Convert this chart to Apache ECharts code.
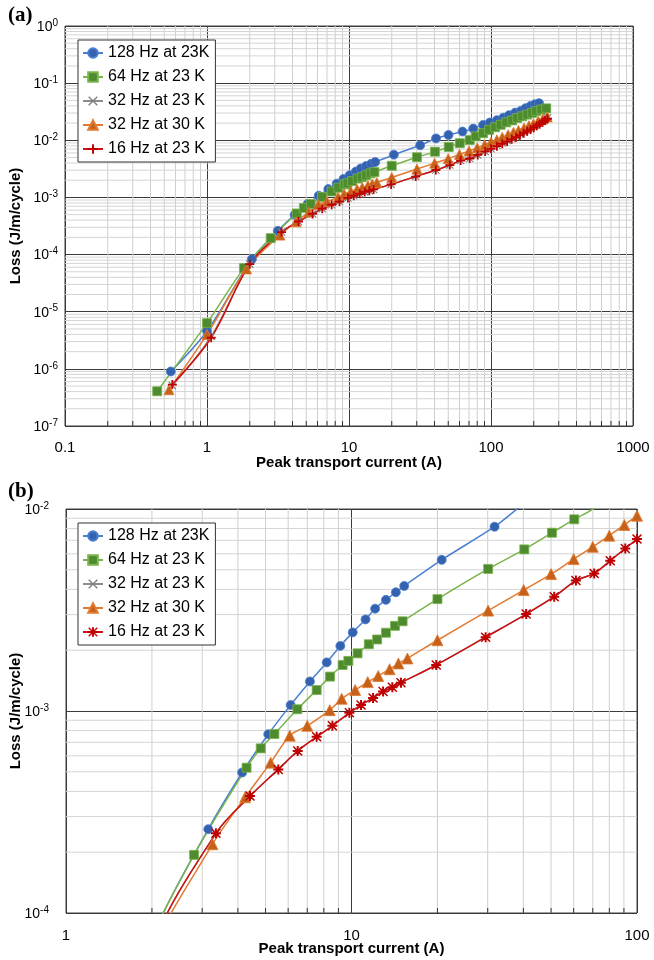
<!DOCTYPE html>
<html>
<head>
<meta charset="utf-8">
<script src="https://cdn.jsdelivr.net/npm/echarts@6/dist/echarts.min.js"></script>
<style>
  body { margin: 0; background: #fff; }
  #chartA { width: 654px; height: 475px; }
  #chartB { width: 654px; height: 485px; }
</style>
</head>
<body>
<div id="chartA"></div>
<div id="chartB"></div>
<script>
// ---- data (current in A, loss in J/m/cycle) ----
const seriesNames = ["128 Hz at 23K", "64 Hz at 23 K", "32 Hz at 23 K", "32 Hz at 30 K", "16 Hz at 23 K"];

const blueX = [0.556, 1.0, 2.07, 3.15, 4.14, 5.11, 6.12, 7.15, 8.19, 9.14, 10.1, 11.2, 12.1, 13.2, 14.3, 15.3, 20.7, 31.7,
  41.0, 50.2, 63, 75, 88, 98, 110, 122, 134, 148, 162, 175, 190, 204, 218];
const blueY = [9.0e-7, 4.6e-6, 8.3e-5, 2.6e-4, 4.96e-4, 7.67e-4, 1.07e-3, 1.40e-3, 1.74e-3, 2.10e-3, 2.45e-3, 2.84e-3, 3.21e-3,
  3.55e-3, 3.87e-3, 4.16e-3, 5.60e-3, 8.17e-3, 1.08e-2, 1.24e-2, 1.42e-2, 1.60e-2, 1.86e-2, 2.04e-2, 2.25e-2, 2.49e-2,
  2.75e-2, 3.05e-2, 3.27e-2, 3.64e-2, 4.0e-2, 4.28e-2, 4.46e-2];

const greenX = [0.446, 1.0, 1.82, 2.81, 4.29, 4.81, 5.37, 6.46, 7.55, 8.41, 9.31, 9.75, 10.5, 11.5, 12.3, 13.2, 14.2, 15.1,
  20.0, 30.1, 40.3, 50.4, 60.3, 70.8, 78, 88, 97, 107, 117, 128, 141, 153, 166, 180, 195, 208, 226, 245];
const greenY = [4.05e-7, 6.3e-6, 5.8e-5, 1.94e-4, 5.24e-4, 6.53e-4, 7.69e-4, 1.02e-3, 1.27e-3, 1.48e-3, 1.69e-3, 1.77e-3,
  1.93e-3, 2.14e-3, 2.26e-3, 2.44e-3, 2.64e-3, 2.78e-3, 3.58e-3, 5.05e-3, 6.31e-3, 7.63e-3, 8.89e-3, 1.01e-2, 1.17e-2,
  1.33e-2, 1.52e-2, 1.69e-2, 1.87e-2, 2.06e-2, 2.23e-2, 2.45e-2, 2.63e-2, 2.82e-2, 3.01e-2, 3.23e-2, 3.46e-2, 3.62e-2];

const grayX = [0.57, 1.07, 2.0, 3.35, 4.41, 5.54, 6.48, 7.55, 8.57, 9.83, 10.8, 11.9, 12.9, 13.9, 14.9, 19.8, 29.5, 40.9,
  51.3, 61.1, 70.8, 80.6, 91, 100, 110, 120, 130, 140, 150, 160, 170, 180, 190, 200, 210, 220, 230, 240, 250];
const grayY = [5.1e-7, 3.7e-6, 6.8e-5, 2.48e-4, 3.79e-4, 5.14e-4, 6.34e-4, 7.45e-4, 8.45e-4, 9.8e-4, 1.07e-3, 1.16e-3,
  1.25e-3, 1.31e-3, 1.38e-3, 1.69e-3, 2.32e-3, 3.02e-3, 3.68e-3, 4.42e-3, 4.8e-3, 5.55e-3, 6.38e-3, 7.1e-3, 8.2e-3,
  9.0e-3, 9.9e-3, 1.08e-2, 1.17e-2, 1.28e-2, 1.38e-2, 1.50e-2, 1.61e-2, 1.73e-2, 1.86e-2, 2.0e-2, 2.14e-2, 2.30e-2, 2.47e-2];

const orangeX = [0.54, 1.0, 1.9, 3.26, 4.24, 5.21, 6.08, 7.0, 8.39, 9.24, 10.3, 11.4, 12.4, 13.6, 14.6, 15.7, 20.0, 30.1,
  40.1, 50.0, 60.0, 70.0, 80.0, 90.3, 100, 110, 120, 132, 144, 156, 171, 185, 199, 215, 232, 249];
const orangeY = [4.3e-7, 4.0e-6, 5.6e-5, 2.19e-4, 3.74e-4, 5.55e-4, 7.55e-4, 8.45e-4, 1.01e-3, 1.15e-3, 1.27e-3, 1.39e-3,
  1.49e-3, 1.61e-3, 1.72e-3, 1.82e-3, 2.24e-3, 3.14e-3, 3.97e-3, 4.76e-3, 5.65e-3, 6.5e-3, 7.38e-3, 8.34e-3, 9.27e-3,
  1.02e-2, 1.13e-2, 1.25e-2, 1.38e-2, 1.49e-2, 1.64e-2, 1.80e-2, 1.95e-2, 2.15e-2, 2.36e-2, 2.56e-2];

const redX = [0.57, 1.07, 2.0, 3.35, 4.41, 5.54, 6.48, 7.55, 8.57, 9.83, 10.8, 11.9, 12.9, 13.9, 14.9, 19.8, 29.5, 40.9,
  51.3, 61.1, 70.8, 80.6, 91, 100, 110, 120, 130, 140, 150, 160, 170, 180, 190, 200, 210, 220, 230, 240, 250];
const redY = [5.3e-7, 3.5e-6, 6.8e-5, 2.48e-4, 3.79e-4, 5.14e-4, 6.34e-4, 7.45e-4, 8.45e-4, 9.8e-4, 1.07e-3, 1.16e-3,
  1.25e-3, 1.31e-3, 1.38e-3, 1.69e-3, 2.32e-3, 3.02e-3, 3.68e-3, 4.42e-3, 4.8e-3, 5.55e-3, 6.38e-3, 7.1e-3, 7.9e-3,
  8.7e-3, 9.5e-3, 1.04e-2, 1.13e-2, 1.23e-2, 1.33e-2, 1.44e-2, 1.55e-2, 1.66e-2, 1.79e-2, 1.92e-2, 2.06e-2, 2.21e-2, 2.38e-2];

// ---- styling ----
const FONT = '"Liberation Sans", Arial, sans-serif';
const SYM_PLUS = "path://M4,0h2v4h4v2h-4v4h-2v-4h-4v-2h4z";
const SYM_X = "path://M1,0L5,4L9,0L10,1L6,5L10,9L9,10L5,6L1,10L0,9L4,5L0,1Z";
const SYM_STAR = "path://M4,0h2v4h4v2h-4v4h-2v-4h-4v-2h4z M1,0L5,4L9,0L10,1L6,5L10,9L9,10L5,6L1,10L0,9L4,5L0,1Z";

const defs = [
  { x: blueX, y: blueY, fill: "#3462AE", line: "#4B7FD1", border: 0.8 },
  { x: greenX, y: greenY, fill: "#4E8B2F", line: "#79B44B", border: 0.8 },
  { x: grayX, y: grayY, fill: "#7F7F7F", line: "#8C8C8C", border: 0 },
  { x: orangeX, y: orangeY, fill: "#C6611B", line: "#E27A30", border: 0.8 },
  { x: redX, y: redY, fill: "#C00000", line: "#D01010", border: 0 }
];

// minor gridline positions k*10^n (decoration, not data)
function minorSteps(lo, hi) {
  const out = [];
  for (let n = lo; n < hi; n++) {
    for (let k = 2; k <= 9; k++) out.push(+(k * Math.pow(10, n)).toPrecision(3));
  }
  return out;
}

function powLabel(v) {
  return "{b|10}{s|" + Math.round(Math.log10(v)) + "}";
}

function drawPanel(domId, p) {
  const chart = echarts.init(document.getElementById(domId));
  const xMinor = minorSteps(Math.round(Math.log10(p.xMin)), Math.round(Math.log10(p.xMax)));
  const yMinor = minorSteps(Math.round(Math.log10(p.yMin)), Math.round(Math.log10(p.yMax)));

  // [x, y, kind]: kind 0 = vertical grid, 1 = horizontal grid, 2 = bottom tick
  const gridMarks = xMinor.map(v => [v, p.yMin, 0])
    .concat(yMinor.map(v => [p.xMin, v, 1]))
    .concat(xMinor.map(v => [v, p.yMin, 2]));

  const lines = defs.map((d, i) => ({
    name: seriesNames[i],
    type: "line",
    smooth: 0.33,
    z: 2,
    data: d.x.map((v, j) => [v, d.y[j]]),
    symbol: p.symbols[i],
    symbolSize: p.sizes[i],
    lineStyle: { color: d.line, width: 1.5 },
    itemStyle: { color: d.fill, borderColor: d.line, borderWidth: d.border }
  }));

  const option = {
    animation: false,
    title: {
      text: p.tag, left: 3, top: p.tagTop,
      textStyle: { fontFamily: '"Liberation Serif", "Times New Roman", serif', fontWeight: "bold", fontSize: 21, color: "#000" }
    },
    grid: {
      left: p.grid[0], top: p.grid[1], width: p.grid[2], height: p.grid[3],
      outerBoundsMode: "none", containLabel: false,
      show: true, borderColor: "#404040", borderWidth: 1
    },
    legend: {
      orient: "vertical", left: 78, top: p.legendTop,
      itemWidth: 20, itemHeight: 12, itemGap: 8, padding: [5, 6, 5, 4],
      borderColor: "#333", borderWidth: 1, backgroundColor: "#fff",
      textStyle: { fontFamily: FONT, fontSize: 16, color: "#000" },
      data: seriesNames
    },
    xAxis: {
      type: "log", logBase: 10, min: p.xMin, max: p.xMax,
      axisLine: { show: false }, axisTick: { show: false },
      splitLine: { show: true, lineStyle: { color: "#3a3a3a", width: 1 } },
      axisLabel: { fontFamily: FONT, fontSize: 15, color: "#000", margin: p.xLabelMargin, formatter: v => String(+(+v).toPrecision(6)) },
      name: "Peak transport current (A)", nameLocation: "middle", nameGap: p.xNameGap, nameMoveOverlap: false,
      nameTextStyle: { fontFamily: FONT, fontWeight: "bold", fontSize: 15, color: "#000" }
    },
    yAxis: {
      type: "log", logBase: 10, min: p.yMin, max: p.yMax,
      axisLine: { show: false }, axisTick: { show: false },
      splitLine: { show: true, lineStyle: { color: "#3a3a3a", width: 1 } },
      axisLabel: {
        margin: p.yLabelMargin, formatter: powLabel,
        rich: {
          b: { fontFamily: FONT, fontSize: 14, color: "#000", lineHeight: 16, verticalAlign: "bottom" },
          s: { fontFamily: FONT, fontSize: 10, color: "#000", lineHeight: 10, verticalAlign: "top" }
        }
      },
      name: "Loss (J/m/cycle)", nameLocation: "middle", nameGap: p.yNameGap, nameMoveOverlap: false,
      nameTextStyle: { fontFamily: FONT, fontWeight: "bold", fontSize: 15, color: "#000" }
    },
    series: [
      {
        type: "custom", silent: true, z: 1, clip: false,
        encode: { x: 0, y: 1 },
        data: gridMarks,
        renderItem: (params, api) => {
          const cs = params.coordSys;
          const pt = api.coord([api.value(0), api.value(1)]);
          const kind = api.value(2);
          if (kind === 0) {
            return { type: "line", z2: 0, shape: { x1: pt[0], y1: cs.y, x2: pt[0], y2: cs.y + cs.height }, style: { stroke: "#cfcfcf", lineWidth: 1 } };
          }
          if (kind === 1) {
            return { type: "line", z2: 0, shape: { x1: cs.x, y1: pt[1], x2: cs.x + cs.width, y2: pt[1] }, style: { stroke: "#d4d4d4", lineWidth: 1 } };
          }
          return { type: "line", z2: 1, shape: { x1: pt[0], y1: cs.y + cs.height, x2: pt[0], y2: cs.y + cs.height - 5 }, style: { stroke: "#333", lineWidth: 1 } };
        }
      }
    ].concat(lines)
  };

  chart.setOption(option);
  window.addEventListener("resize", () => chart.resize());
}

drawPanel("chartA", {
  tag: "(a)", tagTop: 0, legendTop: 40,
  grid: [65, 26, 568, 400],
  xMin: 0.1, xMax: 1000, yMin: 1e-7, yMax: 1,
  xLabelMargin: 14, xNameGap: 29, yNameGap: 42, yLabelMargin: 7,
  symbols: ["circle", "rect", SYM_X, "triangle", SYM_PLUS],
  sizes: [9, 9, 8, 10, 9]
});

drawPanel("chartB", {
  tag: "(b)", tagTop: 1, legendTop: 48,
  grid: [66, 34, 571, 404],
  xMin: 1, xMax: 100, yMin: 1e-4, yMax: 1e-2,
  xLabelMargin: 15, xNameGap: 28, yNameGap: 43, yLabelMargin: 17,
  symbols: ["circle", "rect", SYM_X, "triangle", SYM_STAR],
  sizes: [9, 9, 8, 11, 10]
});
</script>
</body>
</html>
